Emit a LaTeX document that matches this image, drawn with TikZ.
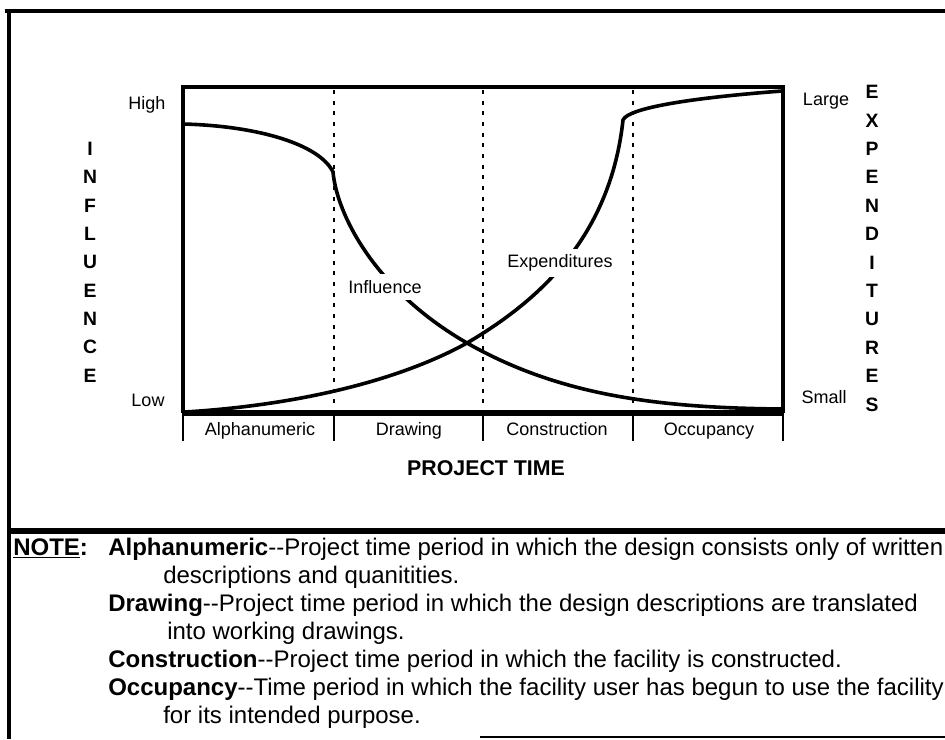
\documentclass[tikz,border=0pt]{standalone}
\usepackage{fontspec}
\setmainfont{Liberation Sans}
\usetikzlibrary{positioning}

\tikzset{
  frame/.style={line width=3pt},
  curve/.style={line width=2.7pt},
  divider/.style={line width=1.9pt, dash pattern={on 3pt off 5pt}},
  tick/.style={line width=1.6pt},
  lbl/.style={font=\fontsize{13.5}{16}\selectfont, inner sep=0.75pt},
  axislet/.style={font=\fontsize{14.5}{16}\selectfont\bfseries, inner sep=0pt},
  notetxt/.style={font=\fontsize{18}{21}\selectfont, anchor=base west, inner sep=0pt},
}

\begin{document}
\begin{tikzpicture}[x=0.75pt,y=0.75pt,yscale=-1,xscale=1]
\useasboundingbox (0,0) rectangle (945,739);

% outer frame
\draw [frame] (5,11) -- (945,11) ;
\draw [frame] (9,11) -- (9,739) ;
\draw [line width=5pt] (9,531) -- (945,531) ;
\draw [line width=1.5pt] (480,737) -- (945,737) ;

% chart box
\coordinate (bl) at (183,413) ;
\coordinate (tl) at (183,87) ;
\coordinate (tr) at (783,87) ;
\coordinate (br) at (783,413) ;
\draw [frame] (bl) -- (tl) -- (tr) -- (br) ;
\draw [line width=4pt] (bl) -- (br) ;

% period dividers and ticks
\foreach \x in {334,483,633} \draw [divider] (\x,90) -- (\x,411) ;
\foreach \x in {183,334,483,633,783} \draw [tick] (\x,413) -- (\x,441) ;

%Influence curve
\draw [curve] (183,124) .. controls (260,126) and (320,145) .. (333,172)
  .. controls (337,215) and (375,290) .. (467,343)
  .. controls (560,396) and (660,408) .. (783,409) ;
%Expenditures curve
\draw [curve] (185,412) .. controls (300,405) and (400,380) .. (467,343)
  .. controls (535,303) and (610,240) .. (623,120)
  .. controls (628,108) and (690,98) .. (782,91) ;

% curve labels
\node [lbl, fill=white, inner sep=5pt] (influence) at (385,287) {Influence};
\node [lbl, fill=white, inner sep=4pt] (expend) at (560,263) {Expenditures};

% scale labels
\node [lbl, anchor=base] (high) at (147,109) {High};
\node [lbl, anchor=base] (low) at (148,406) {Low};
\node [lbl, anchor=base] (large) at (826,105) {Large};
\node [lbl, anchor=base] (small) at (824,403) {Small};

% axis titles
\foreach \c [count=\i from 0] in {I,N,F,L,U,E,N,C,E}
  \node [axislet] (inf\i) at (90,149+28.3*\i) {\c};
\foreach \c [count=\i from 0] in {E,X,P,E,N,D,I,T,U,R,E,S}
  \node [axislet] (exp\i) at (872,92+28.4*\i) {\c};

% period names
\node [lbl, anchor=base] (alpha) at (260,435) {Alphanumeric};
\node [lbl, anchor=base] (drawing) at (409,435) {Drawing};
\node [lbl, anchor=base] (constr) at (557,435) {Construction};
\node [lbl, anchor=base] (occup) at (709,435) {Occupancy};
\node [font=\fontsize{16}{18}\selectfont\bfseries, inner sep=0.75pt] (ptime) at (486,468) {PROJECT TIME};

% notes
\node [notetxt, font=\fontsize{18}{21}\selectfont\bfseries] (note) at (13,555) {\underline{NOTE}:};
\node [notetxt] (n1) at (108,555) {\textbf{Alphanumeric}-{}-Project time period in which the design consists only of written};
\node [notetxt] (n2) at (163,583) {descriptions and quanitities.};
\node [notetxt] (n3) at (108,611) {\textbf{Drawing}-{}-Project time period in which the design descriptions are translated};
\node [notetxt] (n4) at (167,639) {into working drawings.};
\node [notetxt] (n5) at (108,667) {\textbf{Construction}-{}-Project time period in which the facility is constructed.};
\node [notetxt] (n6) at (108,695) {\textbf{Occupancy}-{}-Time period in which the facility user has begun to use the facility};
\node [notetxt] (n7) at (163,723) {for its intended purpose.};

\end{tikzpicture}
\end{document}
